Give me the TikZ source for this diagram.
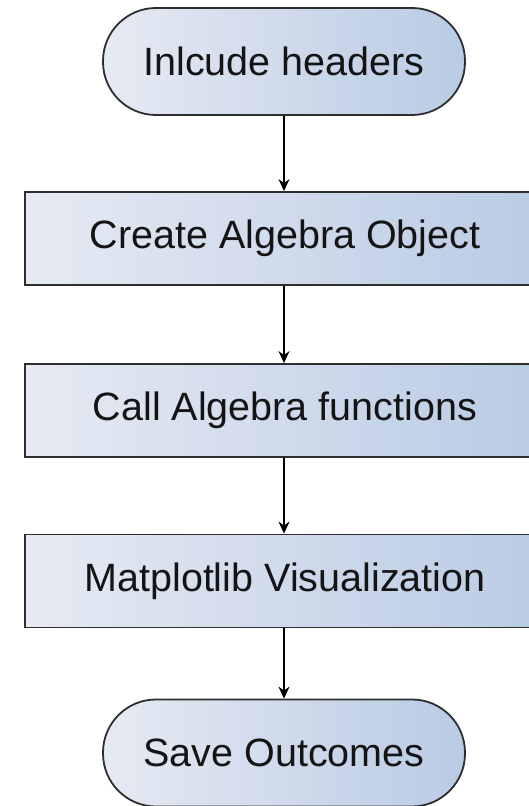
\documentclass[tikz,border=0pt]{standalone}
\usepackage{fontspec}
\setmainfont{Liberation Sans}
\usetikzlibrary{arrows.meta}
\definecolor{fillL}{HTML}{E6EAF3}
\definecolor{fillR}{HTML}{B9CBE4}
\definecolor{edge}{HTML}{2E2E2E}
\tikzset{
  flowbase/.style={draw=edge, line width=1.8pt, left color=fillL, right color=fillR,
    inner sep=0pt, font=\fontsize{39.5}{44}\selectfont, text=black!92},
  termbox/.style={flowbase, minimum width=362pt, minimum height=107pt, rounded corners=53pt},
  procbox/.style={flowbase, minimum width=520pt, minimum height=93pt},
  flowarrow/.style={draw=black, line width=1.5pt, -{Stealth[length=12pt,width=11pt,inset=4pt]}}
}
\begin{document}
\begin{tikzpicture}[x=1pt,y=1pt]
\useasboundingbox (0,0) rectangle (529,806);
\clip (0,0) rectangle (529,806);
\fill[white] (0,0) rectangle (529,806);
\node[termbox] (start) at (284,744.5) {Inlcude headers};
\node[procbox] (create) at (285,567.5) {Create Algebra Object};
\node[procbox] (call) at (285,395.5) {Call Algebra functions};
\node[procbox] (viz) at (285,225) {Matplotlib Visualization};
\node[termbox] (save) at (284,53) {Save Outcomes};
\draw[flowarrow] (start.south) -- (create.north -| start.south);
\draw[flowarrow] (create.south -| start.south) -- (call.north -| start.south);
\draw[flowarrow] (call.south -| start.south) -- (viz.north -| start.south);
\draw[flowarrow] (viz.south -| start.south) -- (save.north);
\end{tikzpicture}
\end{document}
